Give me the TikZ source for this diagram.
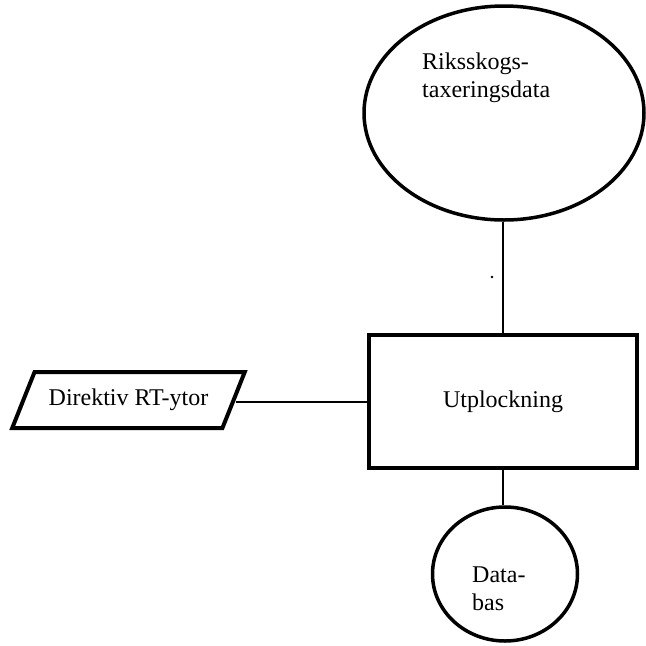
\documentclass[tikz,border=0pt]{standalone}
\usepackage{fontspec}
\setmainfont{Liberation Serif}
\usepackage{tikz}
\usetikzlibrary{arrows.meta, positioning, shapes.geometric}

\begin{document}
\begin{tikzpicture}[
  x=1pt, y=-1pt,
  store/.style={draw, ellipse, line width=3.5pt, inner sep=0pt},
  proc/.style={draw, rectangle, line width=4.5pt, minimum width=268pt, minimum height=133pt, font=\fontsize{24}{28}\selectfont},
  io/.style={draw, trapezium, trapezium left angle=49, trapezium right angle=131, trapezium stretches=true, line width=4pt, minimum width=233pt, minimum height=56pt, inner sep=0pt, font=\fontsize{24}{28}\selectfont},
  txt/.style={inner sep=0pt, align=left, font=\fontsize{24}{27.5}\selectfont},
  conn/.style={line width=2pt}
]
\useasboundingbox (0,0) rectangle (646,646);

\node[store, minimum width=280pt, minimum height=214pt] (riks) at (504,113) {};
\node[txt, anchor=base west] (rikstext) at (422,97) {Riksskogs-\\taxeringsdata};
\node[proc] (utpl) at (503,401.5) {Utplockning};
\node[io] (direktiv) at (128.5,400) {Direktiv RT-ytor};
\node[store, minimum width=145pt, minimum height=134pt] (db) at (505,574) {};
\node[txt, anchor=base west] (dbtext) at (472,610) {Data-\\bas};

\draw[conn] (utpl.north) -- (utpl.north |- riks.south);
\draw[conn] (direktiv.east |- 0,402) -- (utpl.west |- 0,402);
\draw[conn] (utpl.south) -- (utpl.south |- db.north);

\fill (492,277) circle (1.3pt);
\end{tikzpicture}
\end{document}
